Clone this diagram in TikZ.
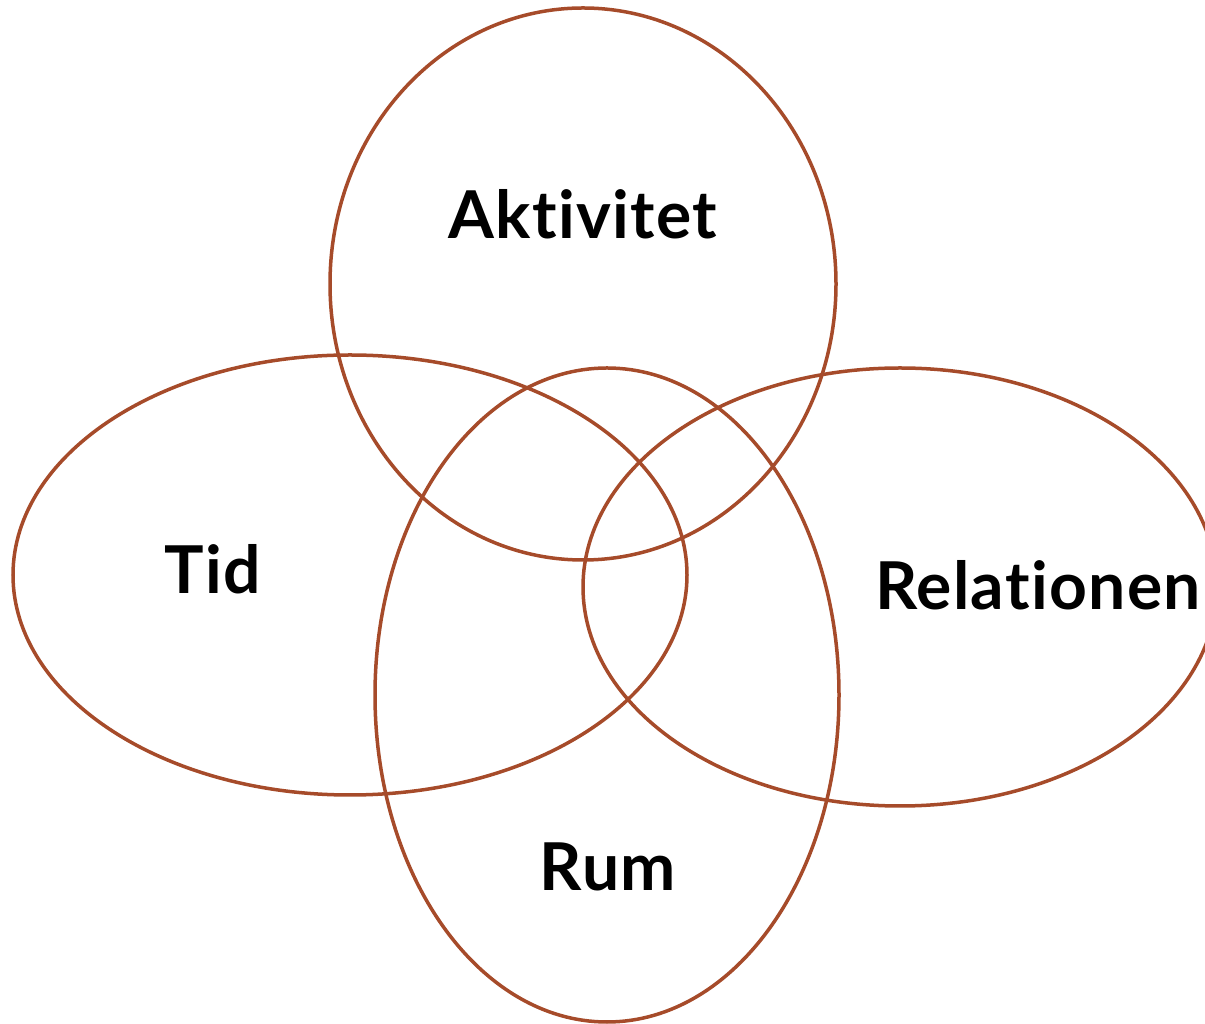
\documentclass[tikz,border=0pt]{standalone}
\usepackage{fontspec}
\setmainfont{Lato}[Ligatures={NoCommon,NoRare},LetterSpace=2]
\definecolor{rust}{RGB}{166,75,42}
\begin{document}
\begin{tikzpicture}[x=1pt,y=1pt,
  ring/.style={draw=rust,line width=3.5pt},
  lbl/.style={anchor=base,inner sep=0pt,font=\fontsize{66}{74}\selectfont\bfseries}]
\useasboundingbox (0,0) rectangle (1205,1023);
\draw[ring] (583,739) ellipse [x radius=253,y radius=276];
\draw[ring] (350,448) ellipse [x radius=337,y radius=220];
\draw[ring] (607,328) ellipse [x radius=232,y radius=327];
\draw[ring] (900,436) ellipse [x radius=317,y radius=219];
\node[lbl] (akt) at (583,784) {Aktivitet};
\node[lbl] (tid) at (213,429) {Tid};
\node[lbl] (rel) at (1038,413) {Relationen};
\node[lbl] (rum) at (608,132) {Rum};
\end{tikzpicture}
\end{document}
